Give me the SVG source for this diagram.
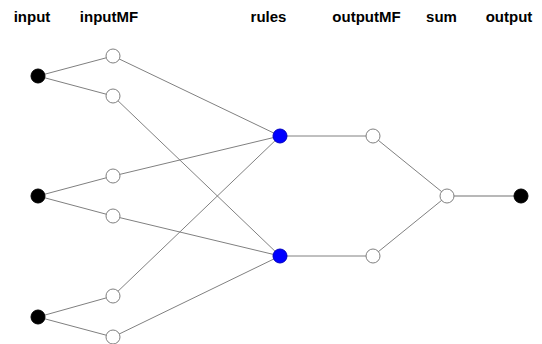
<svg xmlns="http://www.w3.org/2000/svg" width="542" height="344" viewBox="0 0 542 344">
<style>
.lbl{font-family:"Liberation Sans",Arial,sans-serif;font-weight:bold;font-size:15px;fill:#000;text-anchor:middle}
.e{stroke:#808080;stroke-width:1;fill:none}
.n{stroke:#808080;stroke-width:1}
.in{fill:#000;stroke:#000}
.mf{fill:#fff}
.ru{fill:#0000ff;stroke:#0000c0}
</style>
<rect width="542" height="344" fill="#fff"/>
<g id="labels">
<text class="lbl" x="32" y="22">input</text>
<text class="lbl" x="109" y="22">inputMF</text>
<text class="lbl" x="268.5" y="22">rules</text>
<text class="lbl" x="366.5" y="22">outputMF</text>
<text class="lbl" x="441.5" y="22">sum</text>
<text class="lbl" x="509" y="22">output</text>
</g>
<g id="connectors">
<line class="e" x1="38" y1="76" x2="113" y2="56"/>
<line class="e" x1="38" y1="76" x2="113" y2="96"/>
<line class="e" x1="38" y1="196" x2="113" y2="176"/>
<line class="e" x1="38" y1="196" x2="113" y2="216"/>
<line class="e" x1="38" y1="317" x2="113" y2="296"/>
<line class="e" x1="38" y1="317" x2="113" y2="337"/>
<line class="e" x1="113" y1="56" x2="280" y2="136"/>
<line class="e" x1="113" y1="96" x2="280" y2="256"/>
<line class="e" x1="113" y1="176" x2="280" y2="136"/>
<line class="e" x1="113" y1="216" x2="280" y2="256"/>
<line class="e" x1="113" y1="296" x2="280" y2="136"/>
<line class="e" x1="113" y1="337" x2="280" y2="256"/>
<line class="e" x1="280" y1="136" x2="373" y2="136"/>
<line class="e" x1="280" y1="256" x2="373" y2="256"/>
<line class="e" x1="373" y1="136" x2="447" y2="196"/>
<line class="e" x1="373" y1="256" x2="447" y2="196"/>
<line x1="447" y1="196" x2="521" y2="196" stroke="#a0a0a0" stroke-width="1.5"/>
</g>
<g id="in1"><circle class="n in" cx="38" cy="76" r="7"/></g>
<g id="in2"><circle class="n in" cx="38" cy="196" r="7"/></g>
<g id="in3"><circle class="n in" cx="38" cy="317" r="7"/></g>
<g id="mf1"><circle class="n mf" cx="113" cy="56" r="7"/></g>
<g id="mf2"><circle class="n mf" cx="113" cy="96" r="7"/></g>
<g id="mf3"><circle class="n mf" cx="113" cy="176" r="7"/></g>
<g id="mf4"><circle class="n mf" cx="113" cy="216" r="7"/></g>
<g id="mf5"><circle class="n mf" cx="113" cy="296" r="7"/></g>
<g id="mf6"><circle class="n mf" cx="113" cy="337" r="7"/></g>
<g id="rule1"><circle class="n ru" cx="280" cy="136" r="7"/></g>
<g id="rule2"><circle class="n ru" cx="280" cy="256" r="7"/></g>
<g id="omf1"><circle class="n mf" cx="373" cy="136" r="7"/></g>
<g id="omf2"><circle class="n mf" cx="373" cy="256" r="7"/></g>
<g id="sum"><circle class="n mf" cx="447" cy="196" r="7"/></g>
<g id="out"><circle class="n in" cx="521" cy="196" r="7"/></g>
</svg>
